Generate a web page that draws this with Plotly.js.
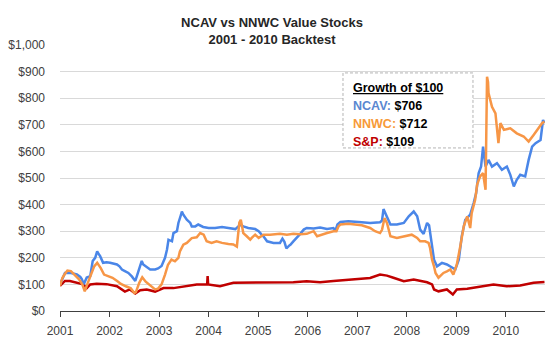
<!DOCTYPE html>
<html><head><meta charset="utf-8">
<script src="https://cdn.plot.ly/plotly-3.0.1.min.js"></script>
<style>html,body{margin:0;padding:0;background:#fff}#chart{width:558px;height:347px}</style>
</head><body><div id="chart"></div>
<script>
// Horizontal positions are expressed as fractional years on the chart's time axis
const ncavX = [2001.00,2001.05,2001.10,2001.20,2001.28,2001.34,2001.41,2001.44,2001.48,2001.52,2001.54,2001.61,2001.66,2001.71,2001.75,2001.78,2001.81,2001.87,2001.94,2002.01,2002.08,2002.15,2002.20,2002.25,2002.31,2002.38,2002.45,2002.52,2002.55,2002.58,2002.65,2002.68,2002.72,2002.82,2002.92,2002.98,2003.05,2003.12,2003.16,2003.19,2003.26,2003.29,2003.36,2003.39,2003.44,2003.46,2003.49,2003.56,2003.63,2003.66,2003.73,2003.79,2003.89,2004.00,2004.13,2004.27,2004.40,2004.54,2004.60,2004.64,2004.70,2004.80,2004.94,2005.01,2005.07,2005.11,2005.18,2005.31,2005.44,2005.49,2005.53,2005.57,2005.62,2005.65,2005.71,2005.78,2005.85,2005.92,2005.98,2006.12,2006.25,2006.39,2006.52,2006.56,2006.60,2006.66,2006.82,2007.09,2007.26,2007.46,2007.50,2007.53,2007.57,2007.60,2007.67,2007.80,2007.94,2008.04,2008.10,2008.14,2008.21,2008.27,2008.34,2008.41,2008.45,2008.51,2008.55,2008.61,2008.71,2008.81,2008.91,2008.98,2009.05,2009.11,2009.18,2009.28,2009.35,2009.40,2009.45,2009.50,2009.54,2009.59,2009.65,2009.72,2009.82,2009.92,2010.02,2010.09,2010.16,2010.22,2010.29,2010.39,2010.46,2010.53,2010.60,2010.70,2010.75,2010.78];
const ncavY = [100,120,143,144,140,138,128,120,101,115,126,131,188,200,224,215,206,181,183,181,178,175,168,156,150,143,130,113,130,150,188,175,169,156,156,160,169,200,231,268,262,293,300,331,360,374,362,343,331,318,318,325,316,312,312,316,312,308,318,324,318,312,308,300,287,280,262,256,256,272,260,235,245,249,262,275,290,306,312,310,314,308,312,302,325,335,337,334,331,334,340,383,365,356,325,325,331,356,365,374,356,306,290,331,322,231,193,168,181,175,162,156,193,281,343,362,406,443,518,543,618,543,568,543,556,531,543,512,468,493,512,506,568,618,631,643,718,706];

const nnwcX = [2001.00,2001.05,2001.10,2001.15,2001.22,2001.28,2001.38,2001.45,2001.50,2001.55,2001.62,2001.69,2001.75,2001.82,2001.89,2001.96,2002.06,2002.16,2002.23,2002.33,2002.43,2002.50,2002.53,2002.60,2002.66,2002.73,2002.80,2002.87,2002.92,2002.98,2003.05,2003.12,2003.18,2003.25,2003.32,2003.39,2003.42,2003.49,2003.56,2003.66,2003.76,2003.83,2003.90,2003.96,2004.06,2004.16,2004.27,2004.40,2004.50,2004.57,2004.62,2004.65,2004.70,2004.77,2004.84,2004.87,2004.94,2005.01,2005.11,2005.24,2005.44,2005.58,2005.71,2005.85,2005.98,2006.12,2006.19,2006.39,2006.52,2006.58,2006.62,2006.66,2006.82,2007.09,2007.26,2007.36,2007.46,2007.50,2007.55,2007.60,2007.67,2007.80,2007.97,2008.10,2008.21,2008.27,2008.37,2008.44,2008.47,2008.51,2008.55,2008.58,2008.64,2008.71,2008.74,2008.81,2008.88,2008.94,2009.01,2009.08,2009.15,2009.22,2009.25,2009.28,2009.31,2009.38,2009.42,2009.48,2009.54,2009.59,2009.62,2009.64,2009.65,2009.72,2009.79,2009.85,2009.89,2009.96,2010.09,2010.22,2010.36,2010.46,2010.56,2010.66,2010.73,2010.78];
const nnwcY = [95,125,140,152,150,140,120,100,74,100,131,168,181,162,137,131,125,112,102,93,85,68,70,106,127,110,100,87,81,84,100,137,174,193,187,200,224,249,256,274,277,293,287,262,256,262,256,252,250,242,332,343,293,281,268,275,287,275,287,287,290,287,290,289,290,300,281,293,300,300,318,325,328,322,312,300,293,305,349,331,281,275,281,287,275,262,262,256,237,193,168,143,125,137,143,149,156,137,175,243,318,356,331,312,368,418,475,506,518,456,881,860,819,768,743,631,706,681,687,668,656,637,662,687,706,712];

const spX = [2001.00,2001.10,2001.20,2001.34,2001.47,2001.54,2001.61,2001.74,2001.94,2002.15,2002.31,2002.41,2002.52,2002.62,2002.75,2002.92,2003.09,2003.29,2003.49,2003.76,2003.97,2003.98,2003.99,2004.23,2004.50,2004.84,2005.18,2005.44,2005.71,2005.98,2006.25,2006.52,2006.79,2007.06,2007.26,2007.46,2007.60,2007.73,2007.94,2008.14,2008.41,2008.51,2008.55,2008.64,2008.81,2008.93,2009.01,2009.22,2009.48,2009.75,2010.02,2010.29,2010.56,2010.78];
const spY = [95,113,113,106,100,86,100,102,101,93,73,81,66,78,81,73,86,86,93,100,100,131,100,93,106,106,106,108,108,112,108,113,117,120,124,137,133,125,112,118,108,100,81,74,81,62,81,84,93,100,93,96,106,109];

const seriesNames = ['NCAV', 'NNWC', 'S&P'];
const lineColors = ['#4a86e8', '#f79646', '#c00000'];
const labelColors = ['#5a87d0', '#f79a38', '#c00000'];
const yearTicks = [2001,2002,2003,2004,2005,2006,2007,2008,2009,2010];
const yearLabels = ['2001','2002','2003','2004','2005','2006','2007','2008','2009','2010'];

const FONT = 'Liberation Sans, Arial, sans-serif';
const xs = [ncavX, nnwcX, spX];
const ys = [ncavY, nnwcY, spY];

const order = [2, 0, 1];
const traces = order.map(i => ({
  x: xs[i], y: ys[i], type: 'scatter', mode: 'lines', name: seriesNames[i],
  line: {color: lineColors[i], width: 2.5}, hoverinfo: 'skip'
}));

const finals = ys.map(a => a[a.length - 1]);
const legendY = [0.771, 0.703, 0.635];
const annotations = [{
  xref: 'paper', yref: 'paper', x: 0.6, y: 0.838, xanchor: 'left', yanchor: 'middle',
  text: '<b><u>Growth of $100</u></b>', showarrow: false,
  font: {family: FONT, size: 12.5, color: '#000'}
}];
seriesNames.forEach((n, i) => {
  annotations.push({
    xref: 'paper', yref: 'paper', x: 0.6, y: legendY[i], xanchor: 'left', yanchor: 'middle',
    text: '<b><span style="color:' + labelColors[i] + '">' + n + ':</span> $' + finals[i] + '</b>',
    showarrow: false, font: {family: FONT, size: 12.5, color: '#000'}
  });
});

const layout = {
  width: 558, height: 347,
  margin: {l: 60, r: 13, t: 45, b: 36},
  paper_bgcolor: '#fff', plot_bgcolor: '#fff',
  showlegend: false,
  title: {
    text: '<b>NCAV vs NNWC Value Stocks<br>2001 - 2010 Backtest</b>',
    font: {family: FONT, size: 13, color: '#262626'},
    x: 0.4875, xref: 'container', xanchor: 'center',
    y: 0.922, yref: 'container', yanchor: 'middle'
  },
  xaxis: {
    type: 'linear', range: [2001, 2010.79],
    tickvals: yearTicks, ticktext: yearLabels,
    ticks: 'outside', ticklen: 5, tickcolor: '#404040', tickwidth: 1,
    showline: true, linecolor: '#404040', linewidth: 1,
    showgrid: false, zeroline: false,
    ticklabelstandoff: 4,
    tickfont: {family: FONT, size: 12, color: '#404040'}
  },
  yaxis: {
    range: [0, 1000], dtick: 100, tick0: 0,
    tickprefix: '$', tickformat: ',d',
    showgrid: true, gridcolor: '#d9d9d9', gridwidth: 1,
    showline: false, zeroline: false, ticks: '',
    ticklabelstandoff: 14,
    tickfont: {family: FONT, size: 12, color: '#404040'}
  },
  shapes: [{
    type: 'rect', xref: 'paper', yref: 'paper',
    x0: 0.5835, x1: 0.8515, y0: 0.613, y1: 0.895,
    line: {color: '#b4b4b4', width: 1, dash: '3px,2px'},
    fillcolor: '#fff', layer: 'above'
  }],
  annotations: annotations
};

Plotly.newPlot('chart', traces, layout, {staticPlot: true, displayModeBar: false});
</script>
</body></html>
